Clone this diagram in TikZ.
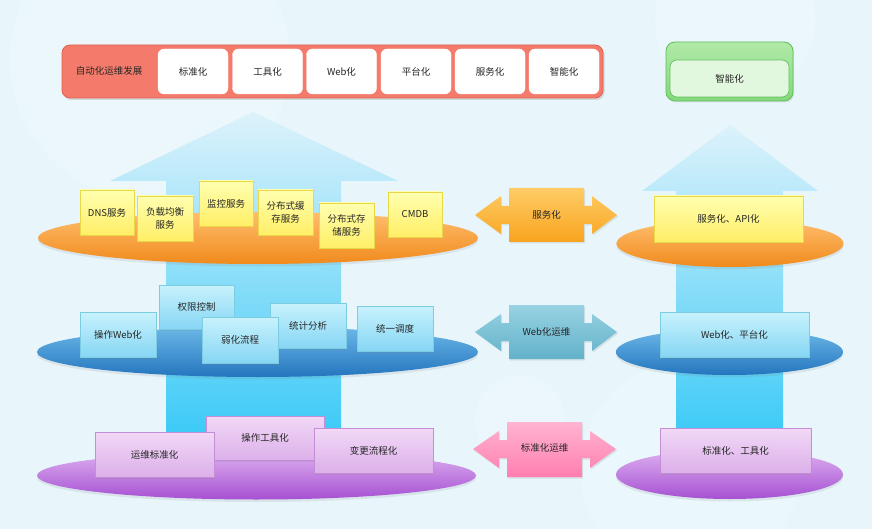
\documentclass[tikz,border=0pt]{standalone}
\usepackage{fontspec}
\setmainfont{Noto Sans CJK SC}
\usetikzlibrary{shapes.geometric,shadows}
\definecolor{bg}{HTML}{E8F6FC}
\definecolor{redfill}{HTML}{F47B6B}
\definecolor{redline}{HTML}{E0604F}
\definecolor{arrTop}{HTML}{DDF2FB}
\definecolor{arrBot}{HTML}{2AC6F6}
\definecolor{orTop}{HTML}{FFBE6E}
\definecolor{orBot}{HTML}{F08A1C}
\definecolor{blTop}{HTML}{6CB8E8}
\definecolor{blBot}{HTML}{2475BE}
\definecolor{puTop}{HTML}{DDB0F0}
\definecolor{puBot}{HTML}{A650D2}
\definecolor{yeTop}{HTML}{FFFFB0}
\definecolor{yeBot}{HTML}{FFEE66}
\definecolor{yeLine}{HTML}{E8D848}
\definecolor{cyTop}{HTML}{C8F2FD}
\definecolor{cyBot}{HTML}{86D6F4}
\definecolor{cyLine}{HTML}{7CCCE2}
\definecolor{ppTop}{HTML}{F2D8F6}
\definecolor{ppBot}{HTML}{DCB0EA}
\definecolor{ppLine}{HTML}{C48ED6}
\definecolor{daOrTop}{HTML}{FFCC66}
\definecolor{daOrBot}{HTML}{F8A41E}
\definecolor{daBlTop}{HTML}{98D2E2}
\definecolor{daBlBot}{HTML}{62B2CA}
\definecolor{daPkTop}{HTML}{FFB4D0}
\definecolor{daPkBot}{HTML}{FF7EB0}
\definecolor{grTop}{HTML}{B0EAA8}
\definecolor{grBot}{HTML}{84D87C}
\definecolor{grLine}{HTML}{5FBE5A}
\definecolor{grIn}{HTML}{E2F8DE}
\begin{document}
\begin{tikzpicture}[x=1pt,y=-1pt,
  font=\fontsize{9.5}{13}\selectfont,
  every node/.style={inner sep=0pt, outer sep=0pt, text=black!85},
  sh/.style={drop shadow={opacity=0.18, shadow xshift=1.2pt, shadow yshift=-1.5pt}},
  esh/.style={drop shadow={opacity=0.15, shadow xshift=0pt, shadow yshift=-2.5pt}},
  whitebox/.style={draw=white, fill=white, rounded corners=6pt, minimum width=70pt, minimum height=45pt},
  ybox/.style={draw=yeLine, line width=0.6pt, top color=yeTop, bottom color=yeBot, align=center, sh},
  cbox/.style={draw=cyLine, line width=0.6pt, top color=cyTop, bottom color=cyBot, align=center, sh},
  pbox/.style={draw=ppLine, line width=0.6pt, top color=ppTop, bottom color=ppBot, align=center, sh},
  orell/.style={ellipse, top color=orTop, bottom color=orBot, esh},
  blell/.style={ellipse, top color=blTop, bottom color=blBot, esh},
  puell/.style={ellipse, top color=puTop, bottom color=puBot, esh},
  bigarrow/.style={top color=arrTop, bottom color=arrBot},
]
\useasboundingbox (0,0) rectangle (872,529);
\fill[bg] (0,0) rectangle (872,529);
% faint decorative circles
\fill[white, opacity=0.18] (150,60) circle[radius=140];
\fill[white, opacity=0.15] (735,20) circle[radius=80];
\fill[white, opacity=0.15] (520,420) circle[radius=45];
\fill[white, opacity=0.12] (690,470) circle[radius=110];

% ---- top bar
\node[fill=redfill, draw=redline, line width=0.8pt, rounded corners=8pt, minimum width=541pt, minimum height=53pt,
      drop shadow={opacity=0.25, shadow xshift=1.5pt, shadow yshift=-2pt}] (bar) at (332.5,71.5) {};
\node (barlab) at (109,71) {自动化运维发展};
\node[whitebox] (w1) at (193,71.5) {标准化};
\node[whitebox] (w2) at (267.5,71.5) {工具化};
\node[whitebox] (w3) at (341.5,71.5) {Web化};
\node[whitebox] (w4) at (416,71.5) {平台化};
\node[whitebox] (w5) at (490,71.5) {服务化};
\node[whitebox] (w6) at (564,71.5) {智能化};

% ---- green box
\node[top color=grTop, bottom color=grBot, draw=grLine, line width=0.8pt, rounded corners=9pt,
      minimum width=127pt, minimum height=59pt, sh] (gout) at (729.5,71.5) {};
\node[fill=grIn, draw=grLine, line width=0.6pt, rounded corners=7pt,
      minimum width=119pt, minimum height=37pt] (gin) at (729.5,78.5) {智能化};

% ---- big arrows
\path[bigarrow] (166,470) -- (166,181) -- (110,181) -- (253,112) -- (398,181) -- (341,181) -- (341,470) -- cycle;
\path[bigarrow] (676,470) -- (676,191) -- (642,191) -- (730,125) -- (818,191) -- (783,191) -- (783,470) -- cycle;

% ---- orange layer
\node[orell, minimum width=440pt, minimum height=52pt] (orL) at (258,238) {};
\node[orell, minimum width=227pt, minimum height=47pt] (orR) at (730,243.5) {};
\node[ybox, minimum width=54pt, minimum height=45pt] (dns) at (107,212.5) {DNS服务};
\node[ybox, minimum width=56pt, minimum height=45pt] (lb) at (165,218.5) {负载均衡\\服务};
\node[ybox, minimum width=54pt, minimum height=45pt] (mon) at (226,203.5) {监控服务};
\node[ybox, minimum width=55pt, minimum height=45pt] (cache) at (285.5,212.5) {分布式缓\\存服务};
\node[ybox, minimum width=55pt, minimum height=45pt] (store) at (346.5,225.5) {分布式存\\储服务};
\node[ybox, minimum width=54pt, minimum height=45pt] (cmdb) at (415,214.5) {CMDB};
\node[ybox, minimum width=149pt, minimum height=46pt] (api) at (728.5,219) {服务化、API化};

% ---- blue layer
\node[blell, minimum width=441pt, minimum height=50pt] (blL) at (257.5,352) {};
\node[blell, minimum width=227pt, minimum height=46pt] (blR) at (729.5,352) {};
\node[cbox, minimum width=75pt, minimum height=44pt] (perm) at (196.5,307) {权限控制};
\node[cbox, minimum width=76pt, minimum height=45pt] (stat) at (308,325.5) {统计分析};
\node[cbox, minimum width=76pt, minimum height=45pt] (opweb) at (118,334.5) {操作Web化};
\node[cbox, minimum width=76pt, minimum height=46pt] (weak) at (240,340) {弱化流程};
\node[cbox, minimum width=76pt, minimum height=45pt] (sched) at (395,328.5) {统一调度};
\node[cbox, minimum width=149pt, minimum height=45pt] (webp) at (734.5,334.5) {Web化、平台化};

% ---- purple layer
\node[puell, minimum width=439pt, minimum height=48pt] (puL) at (256.5,475.5) {};
\node[puell, minimum width=227pt, minimum height=49pt] (puR) at (729.5,474.5) {};
\node[pbox, minimum width=118pt, minimum height=44pt] (optool) at (265,438) {操作工具化};
\node[pbox, minimum width=119pt, minimum height=45pt] (stdz) at (154.5,454.5) {运维标准化};
\node[pbox, minimum width=119pt, minimum height=45pt] (chg) at (373.5,450.5) {变更流程化};
\node[pbox, minimum width=151pt, minimum height=45pt] (stdt) at (735.5,450.5) {标准化、工具化};

% ---- double arrows
\path[top color=daOrTop, bottom color=daOrBot, sh]
  (475,215) -- (501,196) -- (501,206) -- (509,206) -- (509,188) -- (584,188) -- (584,206) -- (592,206) -- (592,196)
  -- (617,215) -- (592,234) -- (592,224) -- (584,224) -- (584,242) -- (509,242) -- (509,224) -- (501,224) -- (501,234) -- cycle;
\node (da1) at (546.5,215) {服务化};
\path[top color=daBlTop, bottom color=daBlBot, sh]
  (475,332) -- (501,314) -- (501,323) -- (509,323) -- (509,305) -- (584,305) -- (584,323) -- (592,323) -- (592,314)
  -- (617,332) -- (592,351) -- (592,341) -- (584,341) -- (584,359) -- (509,359) -- (509,341) -- (501,341) -- (501,351) -- cycle;
\node (da2) at (546.5,332) {Web化运维};
\path[top color=daPkTop, bottom color=daPkBot, sh]
  (473,449) -- (499,431) -- (499,440) -- (507,440) -- (507,422) -- (582,422) -- (582,440) -- (590,440) -- (590,431)
  -- (616,449) -- (590,468) -- (590,458) -- (582,458) -- (582,477) -- (507,477) -- (507,458) -- (499,458) -- (499,468) -- cycle;
\node (da3) at (544.5,448) {标准化运维};
\end{tikzpicture}
\end{document}
